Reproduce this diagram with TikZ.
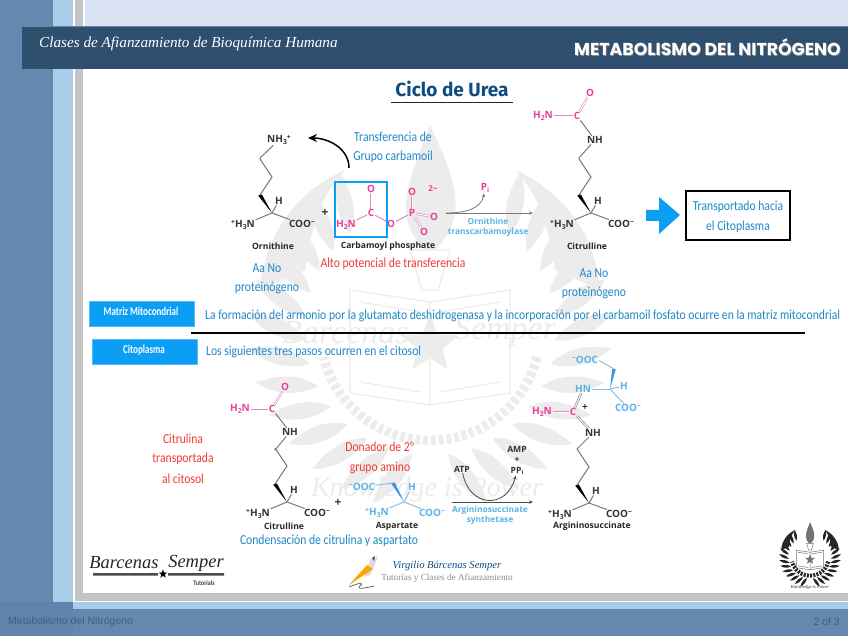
\documentclass[tikz,border=0pt]{standalone}
\usepackage{fontspec}
\usetikzlibrary{arrows.meta,calc,shapes.geometric}
\setmainfont{Liberation Sans}
\newfontfamily\hwf[FakeStretch=.85]{Carlito}
\newfontfamily\tagf[FakeStretch=.75]{Carlito}
\newfontfamily\chemf{Open Sans}
\newfontfamily\scrf{Liberation Serif}
\newfontfamily\capf{Poppins}
\newfontfamily\ttlf{Fira Sans}
\definecolor{band}{HTML}{6488AE}
\definecolor{bandd}{HTML}{5F84AB}
\definecolor{lblue}{HTML}{A9CCEB}
\definecolor{topc}{HTML}{D9E3F3}
\definecolor{head}{HTML}{2E4F6E}
\definecolor{frame}{HTML}{C4C4C4}
\definecolor{hblue}{HTML}{1E88C8}
\definecolor{hred}{HTML}{F03A30}
\definecolor{pinkc}{HTML}{E8409A}
\definecolor{pinkb}{HTML}{DE8CBC}
\definecolor{cyanc}{HTML}{5AB4E6}
\definecolor{cyanb}{HTML}{8CBEDC}
\definecolor{tagb}{HTML}{0A9EF5}
\definecolor{wmk}{HTML}{ECECEC}
\definecolor{bondc}{HTML}{7A7A7A}
\definecolor{ftxt}{HTML}{3E5F82}
\definecolor{ciclo}{HTML}{0F4C81}
\newcommand\dn[1]{\raisebox{-.35ex}{\scalebox{.68}{#1}}}
\newcommand\up[1]{\raisebox{.55ex}{\scalebox{.68}{#1}}}
\tikzset{
 atom/.style={font=\chemf\bfseries\fontsize{10}{11}\selectfont,text=black!80,inner sep=.6pt},
 patom/.style={atom,text=pinkc},
 catom/.style={atom,text=cyanc},
 bond/.style={draw=bondc,line width=1pt},
 pbond/.style={draw=pinkb,line width=1pt},
 cbond/.style={draw=cyanb,line width=1pt},
 dbl/.style={double,double distance=1pt,line width=.6pt},
 molname/.style={font=\chemf\bfseries\fontsize{8.6}{10}\selectfont,text=black!85,inner sep=0},
 hand/.style={font=\hwf\fontsize{13.7}{15}\selectfont,text=hblue,inner sep=0},
 handr/.style={hand,text=hred},
 tagbox/.style={fill=tagb,draw=tagb!70!white,line width=.5pt,inner sep=0,minimum width=105pt,minimum height=25pt},
 tagtext/.style={font=\tagf\bfseries\fontsize{12}{14}\selectfont,text=white,inner sep=0},
 enz/.style={font=\chemf\bfseries\fontsize{8.4}{9.5}\selectfont,text=cyanc,inner sep=0},
 rarrow/.style={draw=bondc,line width=.8pt,-{Stealth[length=4pt,width=3.5pt]}},
}
\newcommand\backbone[2]{%
 \begin{scope}[shift={#2}]
 \coordinate (#1a) at (0,0);
 \coordinate (#1w) at (-12,-18);
 \coordinate (#1m) at (0,-36);
 \coordinate (#1t) at (-12,-54);
 \node[atom] (#1h) at (7,-12) {H};
 \node[atom] (#1n) at (-29,12) {\up{+}H\dn{3}N};
 \node[atom] (#1c) at (30,11) {COO\up{−}};
 \fill[black] (#1a) -- ($(#1w)+(-1.8,.6)$) -- ($(#1w)+(1.8,-.6)$) -- cycle;
 \draw[bond] (#1w) -- (#1m) -- (#1t);
 \draw[bond] (#1a) -- (#1n);
 \draw[bond] (#1a) -- (#1c);
 \draw[bond] (#1a) -- (#1h);
 \end{scope}}
% emblem: #1 centre, #2 scale, #3 colour of laurel, #4 colour of rest, #5 line width
\newcommand\emblem[5]{%
 \begin{scope}[shift={#1},scale=#2]
 \foreach \m in {1,-1}{
  \begin{scope}[xscale=\m]
  \foreach \a in {-52,-41,-30,-19,-8,3,14,25,36,47,58,69,80}{
   \begin{scope}[rotate=-\a]
   \fill[#3] (125,4) .. controls (135,-14) and (155,-24) .. (180,-26) .. controls (170,-10) and (152,4) .. (125,4) -- cycle;
   \end{scope}}
  \fill[#3] (125,-60) .. controls (118,-110) and (105,-140) .. (85,-160) .. controls (130,-140) and (165,-100) .. (170,-40) -- cycle;
  \end{scope}}
 \draw[#3,line width=#5*8,dash pattern=on #5*4 off #5*2.5] (107,27) arc[start angle=14,end angle=166,radius=110];
 \fill[#4] (-5,-80) .. controls (-40,-115) and (-20,-150) .. (0,-205) .. controls (25,-150) and (40,-115) .. (5,-80) -- cycle;
 \draw[#4,line width=#5] (-20,-80) -- (20,-80) -- (8,-40) -- (-8,-40) -- cycle;
 \draw[#4,line width=#5] (-80,-40) -- (0,-28) -- (80,-40) -- (80,63) -- (0,75) -- (-80,63) -- cycle (0,-28) -- (0,75);
 \draw[#4,line width=#5] (-70,-28) -- (-10,-18) (70,-28) -- (10,-18) (-70,52) -- (-10,62) (70,52) -- (10,62);
 \node[star,star points=5,star point ratio=2.3,fill=#4,inner sep=0,minimum size=60*#2 pt] at (0,15) {};
 \end{scope}}

\begin{document}
\begin{tikzpicture}[x=1pt,y=-1pt]
\useasboundingbox (0,0) rectangle (848,636);
% --- slide background
\fill[white] (0,0) rectangle (848,636);
\fill[topc] (85,0) rectangle (848,69);
\fill[band] (0,0) rectangle (53,636);
\fill[lblue] (53,0) rectangle (73,636);
\fill[frame] (75,0) rectangle (83,601);
\fill[frame] (75,593) rectangle (848,601);
\fill[lblue] (0,602) rectangle (848,636);
\fill[band] (0,609) rectangle (848,636);
\fill[bandd] (0,602) rectangle (73,636);
\fill[head] (22,26) rectangle (848,69);
\draw[band,line width=.5pt] (22,26) -- (848,26);
% --- watermark
\emblem{(430,330)}{1}{wmk}{wmk}{1.2pt}
\node[font=\scrf\itshape\fontsize{34}{38}\selectfont,text=wmk,inner sep=0] (wmA) at (345,333) {Barcenas};
\node[font=\scrf\itshape\fontsize{34}{38}\selectfont,text=wmk,inner sep=0] (wmB) at (505,332) {Semper};
\node[font=\scrf\itshape\fontsize{28}{30}\selectfont,text=wmk,inner sep=0] (wmC) at (427,490) {Knowledge is Power};
% --- header
\node[anchor=west,font=\scrf\itshape\fontsize{15.2}{18}\selectfont,text=white,inner sep=0] (ttlA) at (39,44) {Clases de Afianzamiento de Bioquímica Humana};
\node[anchor=east,font=\capf\bfseries\fontsize{17.3}{19}\selectfont,text=black!45,inner sep=0] (ttlS) at (841.7,47.7) {METABOLISMO DEL NITRÓGENO};
\node[anchor=east,font=\capf\bfseries\fontsize{17.3}{19}\selectfont,text=white,inner sep=0] (ttlB) at (841,47) {METABOLISMO DEL NITRÓGENO};
\node[font=\ttlf\bfseries\fontsize{19}{21}\selectfont,text=ciclo,inner sep=0] (cicloT) at (452,89) {Ciclo de Urea};
\coordinate (ulA) at (391,102.5);
\coordinate (ulB) at (513,102.5);
\draw[black!85,line width=1.6pt] (ulA) -- (ulB);
% --- ornithine
\backbone{o}{(272,213)}
\node[atom] (onh) at (279,140) {NH\dn{3}\up{+}};
\draw[bond] (ot) -- (260,158) -- (onh);
\node[molname] (oname) at (273,246) {Ornithine};
\node[atom,font=\chemf\bfseries\fontsize{12}{12}\selectfont] (plusA) at (325,213) {+};
% --- carbamoyl phosphate
\node[patom] (cpC) at (371,213) {C};
\node[patom] (cpO) at (371,189) {O};
\node[patom] (cpN) at (346,225) {H\dn{2}N};
\node[patom] (cpOb) at (391,224) {O};
\node[patom] (cpP) at (412,213) {P};
\node[patom] (cpOt) at (412,192) {O};
\node[patom] (cpOr) at (434,217) {O};
\node[patom] (cpOd) at (424,232) {O};
\node[patom,font=\chemf\bfseries\fontsize{8}{9}\selectfont] (cpq) at (433,189) {2−};
\draw[pbond] (cpC) -- (cpN);
\draw[pbond] (cpC) -- (cpOb);
\draw[pbond] (cpOb) -- (cpP);
\draw[pbond,dbl] (cpC) -- (cpO);
\draw[pbond,dbl] (cpP) -- (cpOt);
\draw[pbond,dbl] (cpP) -- (cpOr);
\draw[pbond,dbl] (cpP) -- (cpOd);
\node[draw=tagb,line width=1.4pt,inner sep=0,minimum width=52pt,minimum height=55pt] (cpbox) at (361,209.5) {};
\node[molname] (cpname) at (388,246) {Carbamoyl phosphate};
% --- transfer arrow and labels
\coordinate (trS) at (349,168);
\coordinate (trE) at (308,138);
\draw[black,line width=1.5pt,-{Stealth[length=9pt,width=8pt]}] (trS) to[out=90,in=0] (trE);
\node[hand] (trA) at (393,137) {Transferencia de};
\node[hand] (trB) at (393,157) {Grupo carbamoil};
\node[handr] (alto) at (393,264) {Alto potencial de transferencia};
\node[hand] (aaA) at (267,268) {Aa No};
\node[hand] (aaB) at (267,288) {proteinógeno};
% --- first reaction arrow
\coordinate (raS) at (446,213);
\coordinate (raE) at (533,213);
\node[patom] (pi) at (485,188) {P\dn{i}};
\draw[rarrow] (raS) -- (raE);
\draw[rarrow] (raS) to[out=0,in=-100] (pi);
\node[enz] (enzA) at (488,221) {Ornithine};
\node[enz] (enzB) at (488,232) {transcarbamoylase};
% --- citrulline, top
\backbone{u}{(591,213)}
\node[atom] (unh) at (595,140) {NH};
\draw[bond] (ut) -- (579,158) -- (unh);
\node[patom] (uC) at (577,116) {C};
\node[patom] (uO) at (590,93) {O};
\node[patom] (uN) at (543,116) {H\dn{2}N};
\draw[pbond] (uC) -- (uN);
\draw[pbond,dbl] (uC) -- (uO);
\draw[bond] (uC) -- (unh);
\node[molname] (uname) at (587,246) {Citrulline};
\node[hand] (aaC) at (594,273) {Aa No};
\node[hand] (aaD) at (594,293) {proteinógeno};
% --- big arrow and box
\fill[tagb] (646,210) -- (659,210) -- (659,197) -- (680,215) -- (659,234) -- (659,221) -- (646,221) -- cycle;
\node[draw=black,line width=1.4pt,inner sep=0,minimum width=104pt,minimum height=49pt] (box) at (738,215.5) {};
\node[hand] (boxA) at (738,207) {Transportado hacia};
\node[hand] (boxB) at (738,227) {el Citoplasma};
% --- section tags
\node[tagbox] (tagA) at (141.5,313.5) {};
\node[tagtext] (tagAt) at (141,311) {Matriz Mitocondrial};
\node[tagbox] (tagB) at (144.5,351.5) {};
\node[tagtext] (tagBt) at (144,350) {Citoplasma};
\node[hand,anchor=west] (matT) at (205,316) {La formación del armonio por la glutamato deshidrogenasa y la incorporación por el carbamoil fosfato ocurre en la matriz mitocondrial};
\node[hand,anchor=west] (citT) at (206,352) {Los siguientes tres pasos ocurren en el citosol};
\coordinate (hrA) at (191,333);
\coordinate (hrB) at (805,333);
\draw[black,line width=1.3pt] (hrA) -- (hrB);
% --- citrulline, lower
\backbone{l}{(287,502)}
\node[atom] (lnh) at (290,432) {NH};
\draw[bond] (lt) -- (275,450) -- (lnh);
\node[patom] (lC) at (272,409) {C};
\node[patom] (lO) at (285,387) {O};
\node[patom] (lN) at (240,409) {H\dn{2}N};
\draw[pbond] (lC) -- (lN);
\draw[pbond,dbl] (lC) -- (lO);
\draw[bond] (lC) -- (lnh);
\node[molname] (lname) at (284,526) {Citrulline};
\node[handr] (ctA) at (183,439) {Citrulina};
\node[handr] (ctB) at (183,459) {transportada};
\node[handr] (ctC) at (183,479) {al citosol};
\node[atom,font=\chemf\bfseries\fontsize{12}{12}\selectfont] (plusB) at (338,503) {+};
% --- aspartate
\coordinate (asa) at (404,502);
\coordinate (asw) at (393,483);
\node[catom] (asO) at (362,487) {\up{−}OOC};
\node[catom] (asH) at (412,487) {H};
\node[catom] (asN) at (377,513) {\up{+}H\dn{3}N};
\node[catom] (asC) at (432,513) {COO\up{−}};
\draw[cbond] (asO) -- (asw);
\fill[cyanc!80!blue] (asa) -- ($(asw)+(-1.8,.6)$) -- ($(asw)+(1.8,-.6)$) -- cycle;
\draw[cbond] (asa) -- (asN);
\draw[cbond] (asa) -- (asC);
\draw[cbond] (asa) -- (asH);
\node[molname] (asname) at (397,526) {Aspartate};
\node[handr] (dnA) at (380,447) {Donador de 2º};
\node[handr] (dnB) at (380,468) {grupo amino};
\node[hand] (cond) at (329,541) {Condensación de citrulina y aspartato};
% --- second reaction arrow
\node[atom,font=\chemf\bfseries\fontsize{8.6}{10}\selectfont] (atp) at (462,469) {ATP};
\node[atom,font=\chemf\bfseries\fontsize{8.6}{10}\selectfont] (amp) at (517,449) {AMP};
\node[atom,font=\chemf\bfseries\fontsize{8.6}{10}\selectfont] (pls) at (517,460) {+};
\node[atom,font=\chemf\bfseries\fontsize{8.6}{10}\selectfont] (ppi) at (517,471) {PP\dn{i}};
\coordinate (rbS) at (452,502);
\coordinate (rbE) at (533,502);
\draw[rarrow,draw=black!70] (rbS) -- (rbE);
\draw[rarrow,draw=black!70] (atp) to[out=-80,in=-105,looseness=1.7] (ppi);
\node[enz] (enzC) at (490,510) {Argininosuccinate};
\node[enz] (enzD) at (490,520) {synthetase};
% --- argininosuccinate
\backbone{r}{(589,503)}
\node[atom] (rnh) at (593,433) {NH};
\draw[bond] (rt) -- (578,448) -- (rnh);
\node[patom] (rC) at (573,412) {C};
\node[patom] (rN) at (542,412) {H\dn{2}N};
\node[catom] (rHN) at (583,389) {HN};
\node[atom] (rp) at (585,408) {+};
\coordinate (ra1) at (610,389);
\coordinate (ra2) at (614,369);
\coordinate (ra3) at (600,361);
\node[catom] (rO) at (585,360) {\up{−}OOC};
\node[catom] (rH) at (624,386) {H};
\node[catom] (rCO) at (628,408) {COO\up{−}};
\draw[pbond,dbl] (rC) -- (rN);
\draw[bond,dbl] (rC) -- (rHN);
\draw[bond,dbl] (rC) -- (rnh);
\draw[cbond] (rHN) -- (ra1);
\draw[cbond] (ra1) -- (rH);
\draw[cbond] (ra1) -- (rCO);
\fill[cyanc!80!blue] (ra1) -- ($(ra2)+(-1.8,-.3)$) -- ($(ra2)+(1.8,.3)$) -- cycle;
\draw[cbond] (ra2) -- (ra3) -- (rO);
\node[molname] (rname) at (592,526) {Argininosuccinate};
% --- Barcenas Semper logo
\node[font=\scrf\itshape\fontsize{18.5}{22}\selectfont,text=black!85,inner sep=0] (lgA) at (124,563) {Barcenas};
\node[font=\scrf\itshape\fontsize{18.5}{22}\selectfont,text=black!85,inner sep=0] (lgB) at (196,563) {Semper};
\node[star,star points=5,star point ratio=2.4,fill=black,inner sep=0,minimum size=9pt] (lgS) at (163,574) {};
\fill[black!70] (93,573) rectangle (158,575.5) (168,573) rectangle (224,575.5);
\node[font=\hwf\bfseries\fontsize{7}{8}\selectfont,text=black!75,inner sep=0] (lgT) at (204,583) {Tutorials};
% --- pen logo
\fill[frame!60] (371,558) -- (378,557) -- (370,575) -- (364,577) -- cycle;
\fill[black!70] (372,558) -- (375,556) -- (374,561) -- cycle;
\fill[orange!70!yellow] (367,565) -- (373,569) -- (349,585) -- cycle;
\draw[black!60,line width=.8pt] (349,587) .. controls (358,583) and (365,582) .. (360,586) .. controls (356,590) and (365,588) .. (374,586);
\node[font=\scrf\itshape\fontsize{10.6}{12}\selectfont,text=ciclo,inner sep=0] (lgV) at (447,566) {Virgilio Bárcenas Semper};
\node[font=\scrf\fontsize{9.2}{11}\selectfont,text=black!45,inner sep=0] (lgU) at (447,578) {Tutorías y Clases de Afianzamiento};
% --- small emblem
\emblem{(810,557)}{.17}{black!85}{black!55}{.5pt}
\node[font=\scrf\itshape\fontsize{4.6}{5}\selectfont,text=black!85,inner sep=0] (emA) at (810,587) {Knowledge is Power};
% --- footer
\node[anchor=west,font=\fontsize{10.5}{12}\selectfont,text=ftxt,inner sep=0] (ftA) at (8,621.5) {Metabolismo del Nitrógeno};
\node[anchor=east,font=\fontsize{10.5}{12}\selectfont,text=ftxt,inner sep=0] (ftB) at (840,621.5) {2 of 3};
\end{tikzpicture}
\end{document}
